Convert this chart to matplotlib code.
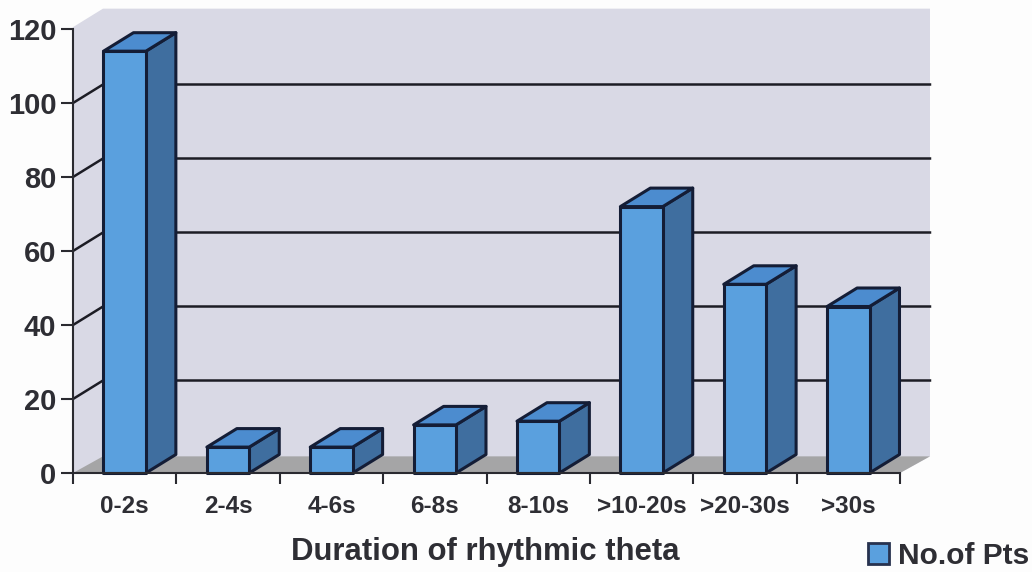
import matplotlib
matplotlib.use("Agg")
import matplotlib.pyplot as plt
from matplotlib.patches import Polygon, Patch

plt.rcParams['font.family'] = ['Liberation Sans', 'DejaVu Sans']

categories = ["0-2s", "2-4s", "4-6s", "6-8s", "8-10s", ">10-20s", ">20-30s", ">30s"]
n_pts = [114, 7, 7, 13, 14, 72, 51, 45]
y_ticks = [0, 20, 40, 60, 80, 100, 120]

# 奥行き (データ座標)
depth_x = 0.29
depth_y = 5.0
bar_w = 0.41
text_color = "#2e2e34"
edge = "#141d36"

fig = plt.figure(figsize=(10.32, 5.72), dpi=100, facecolor="#fdfdfd")
ax = fig.add_axes([73/1032, 1-473/572, 827/1032, 444/572])
ax.set_xlim(-0.5, 7.5)
ax.set_ylim(0, 120)
ax.patch.set_visible(False)


def poly(pts, color, ec="none", lw=0, z=1):
    ax.add_patch(Polygon(pts, closed=True, facecolor=color, edgecolor=ec, linewidth=lw,
                         zorder=z, clip_on=False, joinstyle="round"))


x0, x1 = -0.5, 7.5
top = 120 + depth_y * 0.1

# 壁と床
poly([(x0, 0), (x0, top), (x0+depth_x, top+depth_y),
      (x1+depth_x, top+depth_y), (x1+depth_x, depth_y-0.5), (x1, 0)], "#d9d9e5")
poly([(x0, 0), (x0+depth_x, depth_y-0.5), (x1+depth_x, depth_y-0.5), (x1, 0)], "#a5a5a6", z=2)

# 目盛り線
for v in y_ticks[1:-1]:
    ax.plot([x0, x0+depth_x, x1+depth_x], [v, v+depth_y, v+depth_y],
            color="#1c1c24", lw=1.8, zorder=3, clip_on=False)

# 棒
for i, v in enumerate(n_pts):
    l, r = i - bar_w/2, i + bar_w/2
    poly([(r, 0), (r+depth_x, depth_y), (r+depth_x, v+depth_y), (r, v)], "#3f6e9f", edge, 2.2, 4)
    poly([(l, v), (l+depth_x, v+depth_y), (r+depth_x, v+depth_y), (r, v)], "#4c8ccf", edge, 2.2, 4)
    poly([(l, 0), (l, v), (r, v), (r, 0)], "#5aa0de", edge, 2.2, 5)

for s in ["top", "right"]:
    ax.spines[s].set_visible(False)
for s in ["left", "bottom"]:
    ax.spines[s].set_color("#2a2a30")
    ax.spines[s].set_linewidth(1.5)
    ax.spines[s].set_zorder(6)

ax.set_yticks(y_ticks)
ax.set_yticklabels([str(v) for v in y_ticks], fontsize=21, fontweight="bold", color=text_color)
ax.set_xticks([i - 0.5 for i in range(len(categories) + 1)])
ax.set_xticklabels([])
ax.set_xticks(range(len(categories)), categories, minor=True, fontsize=17.5,
              fontweight="bold", color=text_color)
ax.tick_params(axis="y", length=9, width=1.5, color="#2a2a30", pad=3)
ax.tick_params(axis="x", which="major", length=8, width=1.5, color="#2a2a30")
ax.tick_params(axis="x", which="minor", length=0, pad=16)

fig.text(485/1032, 1-552/572, "Duration of rhythmic theta", fontsize=22.4, fontweight="bold",
         color=text_color, ha="center", va="center")

fig.legend(handles=[Patch(facecolor="#5aa0de", edgecolor="#27324f", linewidth=2, label="No.of Pts")],
           loc="center right", bbox_to_anchor=(1.0, 1-556/572), frameon=False,
           labelcolor=text_color, prop={"weight": "bold", "size": 21.5}, handlelength=0.7,
           handleheight=0.7, handletextpad=0.3, borderpad=0, borderaxespad=0.1)

fig.savefig("out.png", dpi=100, facecolor=fig.get_facecolor())
